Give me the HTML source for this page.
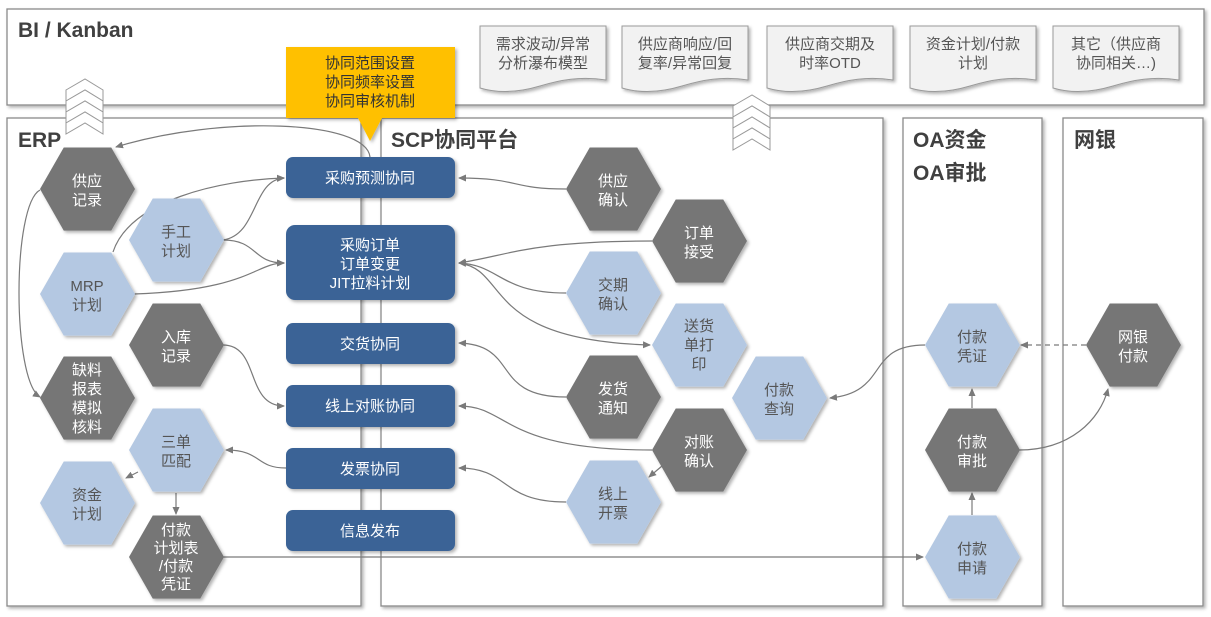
<!DOCTYPE html>
<html><head><meta charset="utf-8"><style>
html,body{margin:0;padding:0;background:#fff;}
svg{display:block;font-family:"Liberation Sans","Noto Sans CJK SC",sans-serif;}
</style></head><body>
<svg width="1211" height="617" viewBox="0 0 1211 617" xmlns="http://www.w3.org/2000/svg">
<defs>
<filter id="sh" x="-10%" y="-10%" width="130%" height="130%"><feDropShadow dx="2" dy="2" stdDeviation="1.5" flood-color="#000" flood-opacity="0.3"/></filter>
<marker id="ar" markerWidth="8" markerHeight="8" refX="7" refY="4" orient="auto" markerUnits="userSpaceOnUse"><path d="M0,0.5 L8,4 L0,7.5 Z" fill="#7a7a7a"/></marker>
<symbol id="hx" viewBox="-48 -42 96 84" overflow="visible"><polygon points="-24,-42 24,-42 48,0 24,42 -24,42 -48,0"/></symbol>
</defs>

<!-- panels -->
<g fill="#fff" stroke="#8a8a8a" stroke-width="1.3" filter="url(#sh)">
<rect x="7" y="9" width="1197" height="96"/>
<rect x="7" y="118" width="354" height="488"/>
<rect x="381" y="118" width="502" height="488"/>
<rect x="903" y="118" width="139" height="488"/>
<rect x="1063" y="118" width="140" height="488"/>
</g>
<g font-weight="bold" fill="#404040" font-size="21">
<text x="18" y="37">BI / Kanban</text>
<text x="18" y="147">ERP</text>
<text x="391" y="147">SCP协同平台</text>
<text x="913" y="147">OA资金</text>
<text x="913" y="180">OA审批</text>
<text x="1074" y="147">网银</text>
</g>

<!-- documents -->
<g fill="#f2f2f2" stroke="#9a9a9a" stroke-width="1" filter="url(#sh)">
<path d="M480,26 H606 V80 C580,76 560,80 540,86 C520,92 500,94 480,88 Z"/>
<path d="M622,26 H748 V80 C722,76 702,80 682,86 C662,92 642,94 622,88 Z"/>
<path d="M767,26 H893 V80 C867,76 847,80 827,86 C807,92 787,94 767,88 Z"/>
<path d="M910,26 H1036 V80 C1010,76 990,80 970,86 C950,92 930,94 910,88 Z"/>
<path d="M1053,26 H1179 V80 C1153,76 1133,80 1113,86 C1093,92 1073,94 1053,88 Z"/>
</g>
<g font-size="15" fill="#555" text-anchor="middle">
<text x="543" y="49">需求波动/异常</text><text x="543" y="68">分析瀑布模型</text>
<text x="685" y="49">供应商响应/回</text><text x="685" y="68">复率/异常回复</text>
<text x="830" y="49">供应商交期及</text><text x="830" y="68">时率OTD</text>
<text x="973" y="49">资金计划/付款</text><text x="973" y="68">计划</text>
<text x="1116" y="49">其它（供应商</text><text x="1116" y="68">协同相关…)</text>
</g>

<!-- chevrons -->
<g fill="#fff" stroke="#9a9a9a" stroke-width="1">
<polygon points="66,90 85,79 103,90 103,101 85,90 66,101"/>
<polygon points="66,101 85,90 103,101 103,112 85,101 66,112"/>
<polygon points="66,112 85,101 103,112 103,123 85,112 66,123"/>
<polygon points="66,123 85,112 103,123 103,134 85,123 66,134"/>
<polygon points="733,106 752,95 770,106 770,117 752,106 733,117"/>
<polygon points="733,117 752,106 770,117 770,128 752,117 733,128"/>
<polygon points="733,128 752,117 770,128 770,139 752,128 733,139"/>
<polygon points="733,139 752,128 770,139 770,150 752,139 733,150"/>
</g>

<!-- callout -->
<path d="M286,47 H455 V118 H382 L370,141 L358,118 H286 Z" fill="#ffc000" filter="url(#sh)"/>
<g font-size="15" fill="#333" text-anchor="middle">
<text x="370" y="68">协同范围设置</text><text x="370" y="87">协同频率设置</text><text x="370" y="106">协同审核机制</text>
</g>

<!-- connectors -->
<g fill="none" stroke="#7a7a7a" stroke-width="1.2" marker-end="url(#ar)">
<path d="M370,157 C366,120 220,115 116,147"/>
<path d="M40,190 C12,205 12,380 40,397"/>
<path d="M113,252 C130,200 220,180 284,178"/>
<path d="M223,240 C258,235 252,180 284,178"/>
<path d="M223,240 C258,240 252,263 284,263"/>
<path d="M134,294 C250,290 255,263 284,263"/>
<path d="M223,345 C260,345 245,406 284,406"/>
<path d="M286,468 C255,468 262,450 226,450"/>
<path d="M138,472 L126,478"/>
<path d="M176,493 L176,514"/>
<path d="M223,557 L923,557"/>
<path d="M566,189 C510,189 520,178 459,178"/>
<path d="M652,241 C530,241 510,255 459,263"/>
<path d="M566,293 C500,293 500,265 459,263"/>
<path d="M459,263 C510,270 480,340 650,345"/>
<path d="M566,397 C490,397 520,345 459,343"/>
<path d="M652,450 C500,450 510,406 459,406"/>
<path d="M662,466 L649,477"/>
<path d="M566,502 C500,502 510,468 459,468"/>
<path d="M925,345 C865,345 890,392 830,398"/>
<path d="M972,515 L972,493"/>
<path d="M972,408 L972,389"/>
<path d="M1019,450 C1070,450 1100,420 1108,389"/>
<path d="M1086,345 L1021,345" stroke-dasharray="5,4"/>
</g>

<!-- blue boxes -->
<g fill="#3b6496" filter="url(#sh)">
<rect x="286" y="157" width="169" height="41" rx="7"/>
<rect x="286" y="225" width="169" height="75" rx="9"/>
<rect x="286" y="323" width="169" height="41" rx="7"/>
<rect x="286" y="385" width="169" height="42" rx="7"/>
<rect x="286" y="448" width="169" height="41" rx="7"/>
<rect x="286" y="510" width="169" height="41" rx="7"/>
</g>
<g font-size="15" fill="#fff" text-anchor="middle">
<text x="370" y="183">采购预测协同</text>
<text x="370" y="250">采购订单</text><text x="370" y="269">订单变更</text><text x="370" y="288">JIT拉料计划</text>
<text x="370" y="349">交货协同</text>
<text x="370" y="411">线上对账协同</text>
<text x="370" y="474">发票协同</text>
<text x="370" y="536">信息发布</text>
</g>

<!-- hexagons -->
<g filter="url(#sh)">
<g fill="#767676">
<use href="#hx" x="40" y="147" width="95" height="84"/>
<use href="#hx" x="129" y="303" width="95" height="84"/>
<use href="#hx" x="40" y="356" width="95" height="84"/>
<use href="#hx" x="129" y="515" width="95" height="84"/>
<use href="#hx" x="566" y="147" width="95" height="84"/>
<use href="#hx" x="652" y="199" width="95" height="84"/>
<use href="#hx" x="566" y="355" width="95" height="84"/>
<use href="#hx" x="652" y="408" width="95" height="84"/>
<use href="#hx" x="925" y="408" width="95" height="84"/>
<use href="#hx" x="1086" y="303" width="95" height="84"/>
</g>
<g fill="#b4c8e2">
<use href="#hx" x="129" y="198" width="95" height="84"/>
<use href="#hx" x="40" y="252" width="95" height="84"/>
<use href="#hx" x="129" y="408" width="95" height="84"/>
<use href="#hx" x="40" y="461" width="95" height="84"/>
<use href="#hx" x="566" y="251" width="95" height="84"/>
<use href="#hx" x="652" y="303" width="95" height="84"/>
<use href="#hx" x="732" y="356" width="95" height="84"/>
<use href="#hx" x="566" y="460" width="95" height="84"/>
<use href="#hx" x="925" y="303" width="95" height="84"/>
<use href="#hx" x="925" y="515" width="95" height="84"/>
</g>
</g>
<g font-size="15" text-anchor="middle">
<g fill="#fff">
<text x="87" y="186">供应</text><text x="87" y="205">记录</text>
<text x="176" y="342">入库</text><text x="176" y="361">记录</text>
<text x="87" y="375">缺料</text><text x="87" y="394">报表</text><text x="87" y="413">模拟</text><text x="87" y="432">核料</text>
<text x="176" y="535">付款</text><text x="176" y="553">计划表</text><text x="176" y="571">/付款</text><text x="176" y="589">凭证</text>
<text x="613" y="186">供应</text><text x="613" y="205">确认</text>
<text x="699" y="238">订单</text><text x="699" y="257">接受</text>
<text x="613" y="394">发货</text><text x="613" y="413">通知</text>
<text x="699" y="447">对账</text><text x="699" y="466">确认</text>
<text x="972" y="447">付款</text><text x="972" y="466">审批</text>
<text x="1133" y="342">网银</text><text x="1133" y="361">付款</text>
</g>
<g fill="#555">
<text x="176" y="237">手工</text><text x="176" y="256">计划</text>
<text x="87" y="291">MRP</text><text x="87" y="310">计划</text>
<text x="176" y="447">三单</text><text x="176" y="466">匹配</text>
<text x="87" y="500">资金</text><text x="87" y="519">计划</text>
<text x="613" y="290">交期</text><text x="613" y="309">确认</text>
<text x="699" y="331">送货</text><text x="699" y="350">单打</text><text x="699" y="369">印</text>
<text x="779" y="395">付款</text><text x="779" y="414">查询</text>
<text x="613" y="499">线上</text><text x="613" y="518">开票</text>
<text x="972" y="342">付款</text><text x="972" y="361">凭证</text>
<text x="972" y="554">付款</text><text x="972" y="573">申请</text>
</g>
</g>
</svg>
</body></html>
